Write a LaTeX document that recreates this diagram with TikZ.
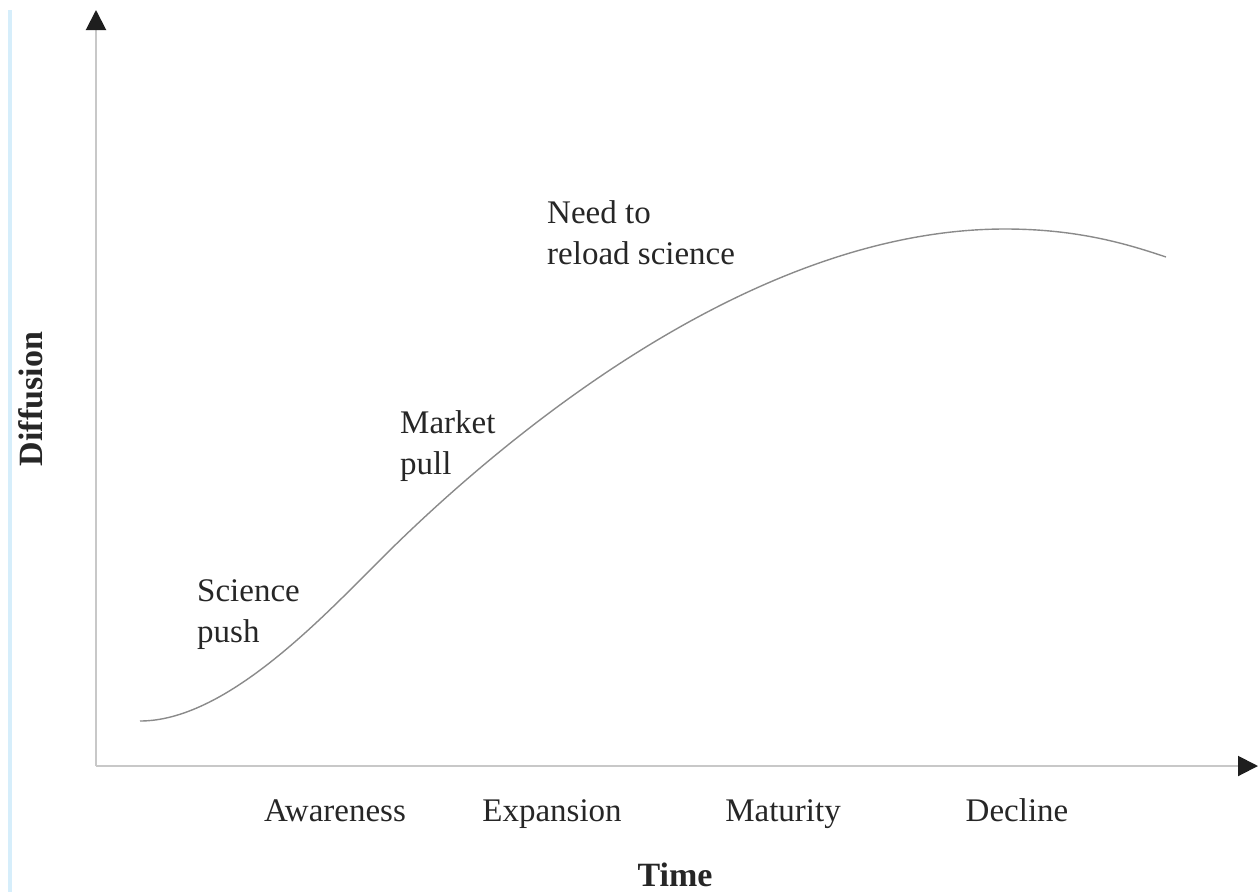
\documentclass[tikz,border=0pt]{standalone}
\usepackage{fontspec}
\setmainfont{Liberation Serif}
\usetikzlibrary{arrows.meta}
\definecolor{axisgray}{HTML}{C8C8C8}
\definecolor{curvegray}{HTML}{8A8A8A}
\definecolor{edgeblue}{HTML}{D6EEFB}
\definecolor{tipblack}{HTML}{1E1E1E}
\tikzset{
  axisline/.style={draw=axisgray, line width=2pt},
  axistip/.style={-{Triangle[length=20pt,width=20pt,fill=tipblack,color=tipblack]}},
  sline/.style={draw=curvegray, line width=1.4pt},
  lbl/.style={inner sep=0pt, font=\fontsize{33}{41}\selectfont, text=black!85, align=left, anchor=base west},
  phase/.style={inner sep=0pt, font=\fontsize{33}{40}\selectfont, text=black!85, anchor=base},
  axtitle/.style={inner sep=0pt, font=\fontsize{34}{40}\selectfont\bfseries, text=black!85, anchor=base}
}
\begin{document}
\begin{tikzpicture}[x=1pt,y=-1pt]
\useasboundingbox (0,0) rectangle (1258,892);
% left edge line
\fill[edgeblue] (8,10) rectangle (12,892);
% axes
\coordinate (O) at (96,766);
\coordinate (ytop) at (96,10);
\coordinate (xend) at (1258,766);
\draw[axisline, axistip] (O) -- (ytop);
\draw[axisline, axistip] (O) -- (xend);
% diffusion curve
\coordinate (c0) at (140,721);
\coordinate (c1) at (380,560);
\coordinate (c2) at (1005,229);
\coordinate (c3) at (1166,257);
\draw[sline] (c0) .. controls (225,721) and (320,620) .. (c1)
  .. controls (500,440) and (750,229) .. (c2)
  .. controls (1080,229) and (1130,245) .. (c3);
% labels on curve
\node[lbl] (science) at (197,642) {Science\\push};
\node[lbl] (market) at (400,474) {Market\\pull};
\node[lbl] (reload) at (547,264) {Need to\\reload science};
% phases
\node[phase] (aware) at (335,821) {Awareness};
\node[phase] (expan) at (552,821) {Expansion};
\node[phase] (matur) at (783,821) {Maturity};
\node[phase] (decl) at (1017,821) {Decline};
% axis titles
\node[axtitle] (time) at (675,886) {Time};
\node[axtitle, rotate=90] (diff) at (42,399) {Diffusion};
\end{tikzpicture}
\end{document}
